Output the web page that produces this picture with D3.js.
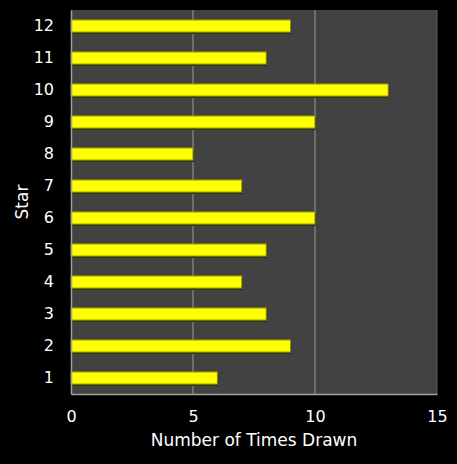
<!DOCTYPE html>
<html>
<head>
<meta charset="utf-8">
<script src="https://cdn.jsdelivr.net/npm/d3@7"></script>
<style>
  html, body { margin: 0; padding: 0; background: #000; }
  svg { display: block; }
</style>
</head>
<body>
<div id="chart"></div>
<script>
var stars = ["1", "2", "3", "4", "5", "6", "7", "8", "9", "10", "11", "12"];
var timesDrawn = [6, 9, 8, 7, 8, 10, 7, 5, 10, 13, 8, 9];
var xTicks = [0, 5, 10, 15];

window.onload = function () {

    var width = 457,
        height = 464,
        margin = {left: 71, top: 10, right: 20, bottom: 70};

    var svg = d3.select("#chart")
                .append("svg")
                .attr("width", width)
                .attr("height", height)
                .style("background", "#000");

    var data = stars.map(function (s, i) { return {star: s, value: timesDrawn[i]}; });

    var xScale = d3.scaleLinear()
                    .domain([0, 15])
                    .range([margin.left, width - margin.right]);

    var yScale = d3.scaleBand()
                    .domain(stars.slice().reverse())
                    .range([margin.top, height - margin.bottom])
                    .paddingInner(0.62)
                    .paddingOuter(0.31);

    // plot area
    svg.append("rect")
        .attr("x", xScale(0))
        .attr("y", margin.top)
        .attr("width", xScale(15) - xScale(0))
        .attr("height", height - margin.bottom - margin.top)
        .attr("fill", "#424242");

    // gridlines
    svg.selectAll("line.grid")
        .data(xTicks.slice(1))
        .enter()
        .append("line")
            .attr("class", "grid")
            .attr("x1", function (v) { return xScale(v); })
            .attr("x2", function (v) { return xScale(v); })
            .attr("y1", margin.top)
            .attr("y2", height - margin.bottom)
            .attr("stroke", function (v) { return v === 15 ? "#5a5a5a" : "#9a9a9a"; })
            .attr("stroke-width", 1);

    // bar shadows
    svg.selectAll("rect.shadow")
        .data(data)
        .enter()
        .append("rect")
            .attr("class", "shadow")
            .attr("x", xScale(0) + 1)
            .attr("y", function (d) { return yScale(d.star) + 2; })
            .attr("width", function (d) { return xScale(d.value) - xScale(0); })
            .attr("height", yScale.bandwidth())
            .attr("fill", "#33331f");

    // bars
    svg.selectAll("rect.bar")
        .data(data)
        .enter()
        .append("rect")
            .attr("class", "bar")
            .attr("x", xScale(0))
            .attr("y", function (d) { return yScale(d.star); })
            .attr("width", function (d) { return xScale(d.value) - xScale(0); })
            .attr("height", yScale.bandwidth())
            .attr("fill", "#ffff00")
            .attr("stroke", "#8c8c00")
            .attr("stroke-width", 1);

    // axes
    var xAxis = d3.axisBottom(xScale).tickValues(xTicks).tickSize(0).tickPadding(17);
    var yAxis = d3.axisLeft(yScale).tickSize(0).tickPadding(17);

    var gx = svg.append("g")
        .attr("transform", "translate(0," + (height - margin.bottom) + ")")
        .call(xAxis);

    var gy = svg.append("g")
        .attr("transform", "translate(" + xScale(0) + ",0)")
        .call(yAxis);

    [gx, gy].forEach(function (g) {
        g.select(".domain").attr("stroke", "#a0a0a0").attr("stroke-width", 1.5);
        g.selectAll("text")
            .attr("fill", "#ffffff")
            .style("font-family", "'DejaVu Sans', sans-serif")
            .style("font-size", "16px");
    });

    // axis titles
    svg.append("text")
        .attr("x", (xScale(0) + xScale(15)) / 2)
        .attr("y", 446)
        .attr("text-anchor", "middle")
        .attr("fill", "#ffffff")
        .style("font-family", "'DejaVu Sans', sans-serif")
        .style("font-size", "17px")
        .text("Number of Times Drawn");

    svg.append("text")
        .attr("transform", "translate(28," + ((margin.top + height - margin.bottom) / 2) + ") rotate(-90)")
        .attr("text-anchor", "middle")
        .attr("fill", "#ffffff")
        .style("font-family", "'DejaVu Sans', sans-serif")
        .style("font-size", "17px")
        .text("Star");
};
</script>
</body>
</html>
